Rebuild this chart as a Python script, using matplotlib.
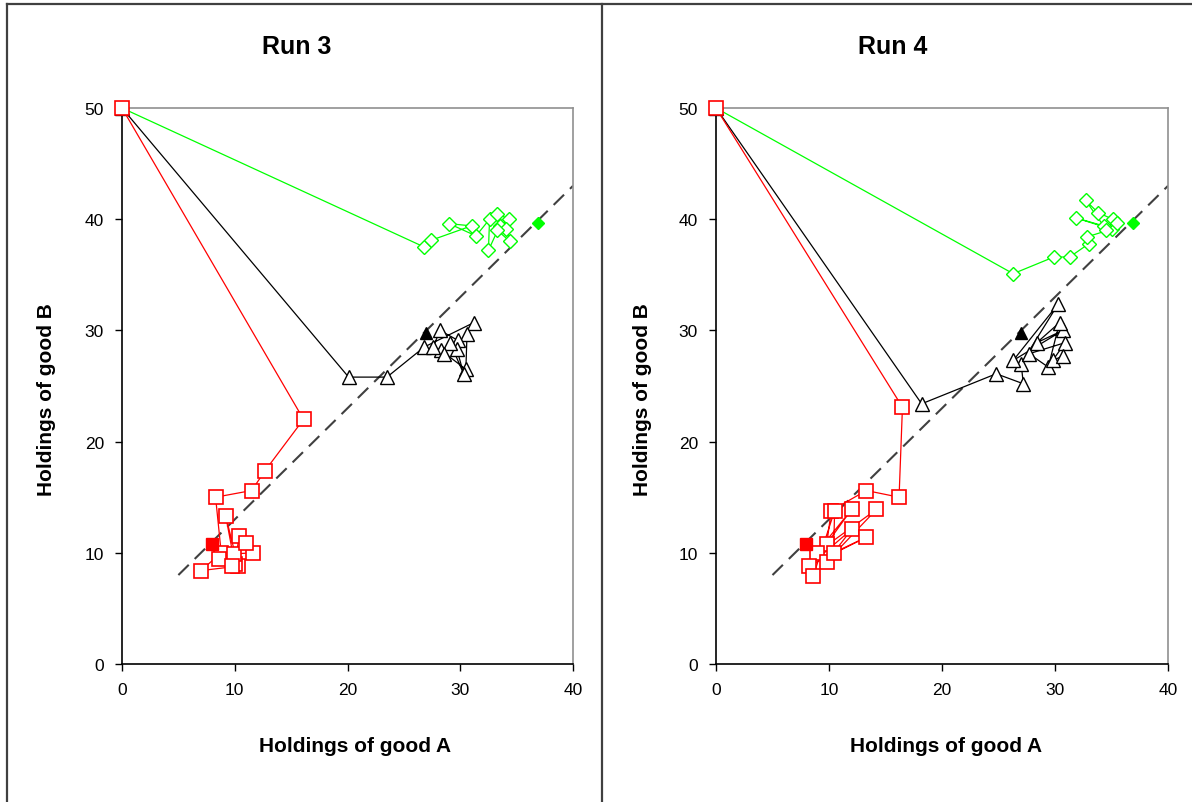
"""
Траектории обмена двух товаров: Run 3 и Run 4.
"""

import matplotlib
matplotlib.use("Agg")
import matplotlib.pyplot as plt
from matplotlib.lines import Line2D

plt.rcParams["font.family"] = ["Liberation Sans", "DejaVu Sans"]

# --- данные: Run 3 ---
run3_red_a = [0, 16.1, 12.7, 11.5, 8.3, 8.8, 7.0, 10.3, 9.2, 10.0, 10.4, 11.6, 9.9, 11.0, 8.6, 9.8]
run3_red_b = [50, 22.0, 17.4, 15.6, 15.0, 10.0, 8.4, 8.8, 13.3, 9.0, 11.5, 10.0, 9.9, 10.9, 9.4, 8.8]

run3_black_a = [0, 20.1, 23.5, 26.8, 31.2, 30.6, 30.5, 28.3, 27.6, 28.2, 29.8, 29.7, 30.3, 29.1, 28.6]
run3_black_b = [50, 25.8, 25.8, 28.5, 30.7, 29.7, 26.5, 28.2, 28.5, 30.0, 29.1, 28.3, 26.1, 28.9, 27.9]

run3_green_a = [0, 26.8, 27.4, 31.0, 29.0, 31.4, 32.6, 32.5, 33.5, 34.3, 33.3, 34.1, 34.4, 33.3]
run3_green_b = [50, 37.5, 38.1, 39.4, 39.6, 38.5, 40.0, 37.2, 39.4, 40.0, 40.5, 39.1, 38.0, 39.0]

# --- данные: Run 4 ---
run4_red_a = [0, 16.5, 16.2, 13.3, 10.2, 9.8, 12.0, 8.9, 14.2, 9.8, 12.0, 8.2, 13.3, 10.4, 10.5, 8.6]
run4_red_b = [50, 23.1, 15.0, 15.6, 13.8, 10.8, 13.9, 10.0, 13.9, 9.2, 12.1, 8.8, 11.4, 10.0, 13.8, 7.9]

run4_black_a = [0, 18.2, 24.8, 27.2, 27.0, 30.3, 26.3, 30.7, 28.4, 30.4, 29.4, 27.7, 30.9, 29.8, 30.7]
run4_black_b = [50, 23.4, 26.1, 25.2, 27.0, 32.4, 27.3, 30.0, 28.9, 30.7, 26.7, 27.9, 28.9, 27.3, 27.7]

run4_green_a = [0, 26.3, 29.9, 31.3, 33.0, 32.8, 35.0, 31.9, 34.3, 32.7, 33.8, 35.1, 35.5, 34.5]
run4_green_b = [50, 35.1, 36.6, 36.6, 37.8, 38.4, 39.1, 40.1, 39.4, 41.7, 40.6, 40.0, 39.7, 39.0]

# равновесные точки (общие для обоих прогонов)
eq_red = (8.0, 10.8)
eq_black = (27.0, 29.8)
eq_green = (36.9, 39.7)

# пунктирная линия (контрактная кривая)
curve_a = [5, 40]
curve_b = [8, 43]

runs = {
    "Run 3": (run3_red_a, run3_red_b, run3_black_a, run3_black_b, run3_green_a, run3_green_b),
    "Run 4": (run4_red_a, run4_red_b, run4_black_a, run4_black_b, run4_green_a, run4_green_b),
}

W, H = 1192, 803
GREEN = "#00FF00"


def draw_panel(ax, data):
    red_a, red_b, blk_a, blk_b, grn_a, grn_b = data
    ax.plot(curve_a, curve_b, color="#404040", lw=1.5, dashes=(7, 4), zorder=1)

    ax.plot(grn_a, grn_b, "-D", color=GREEN, lw=0.9, ms=7.5, mfc="white", mec=GREEN, mew=1.0,
            zorder=2, clip_on=False)
    ax.plot(blk_a, blk_b, "-^", color="black", lw=0.9, ms=10, mfc="white", mec="black", mew=1.0,
            zorder=3, clip_on=False)
    ax.plot(red_a, red_b, "-s", color="red", lw=0.9, ms=9.5, mfc="white", mec="red", mew=1.2,
            zorder=4, clip_on=False)

    ax.plot(*eq_green, "D", color=GREEN, ms=6, zorder=5)
    ax.plot(*eq_black, "^", color="black", ms=9, zorder=5)
    ax.plot(*eq_red, "s", color="red", ms=8, zorder=5)

    ax.set_xlim(0, 40)
    ax.set_ylim(0, 50)
    ax.set_xticks([0, 10, 20, 30, 40])
    ax.set_yticks([0, 10, 20, 30, 40, 50])
    ax.tick_params(direction="out", length=5, width=1, labelsize=12.5, pad=8)
    for side in ("top", "right"):
        ax.spines[side].set_color("#909090")
        ax.spines[side].set_linewidth(1.2)
    for side in ("left", "bottom"):
        ax.spines[side].set_color("black")
        ax.spines[side].set_linewidth(1.2)


fig = plt.figure(figsize=(W / 100, H / 100), dpi=100)

panels = [
    # (левый px, правый px, центр заголовка x, центр ylabel x, центр xlabel x)
    ("Run 3", 122, 573, 297, 47, 355),
    ("Run 4", 716, 1168, 893, 643, 946),
]
top_px, bot_px = 109, 665

for name, x0, x1, tx, yx, xx in panels:
    ax = fig.add_axes([x0 / W, 1 - bot_px / H, (x1 - x0) / W, (bot_px - top_px) / H])
    draw_panel(ax, runs[name])
    fig.text(tx / W, 1 - 47 / H, name, ha="center", va="center", fontsize=18, fontweight="bold")
    fig.text(yx / W, 1 - 400 / H, "Holdings of good B", ha="center", va="center",
             rotation=90, fontsize=15, fontweight="bold")
    fig.text(xx / W, 1 - 747 / H, "Holdings of good A", ha="center", va="center",
             fontsize=15, fontweight="bold")

# рамки панелей
frame_kw = dict(color="#404040", lw=1.6, transform=fig.transFigure)
fig.add_artist(Line2D([7 / W, 7 / W], [0, 1 - 5 / H], **frame_kw))
fig.add_artist(Line2D([7 / W, 1], [1 - 5 / H, 1 - 5 / H], **frame_kw))
fig.add_artist(Line2D([602 / W, 602 / W], [0, 1 - 5 / H], **frame_kw))

fig.savefig("out.png", dpi=100)
